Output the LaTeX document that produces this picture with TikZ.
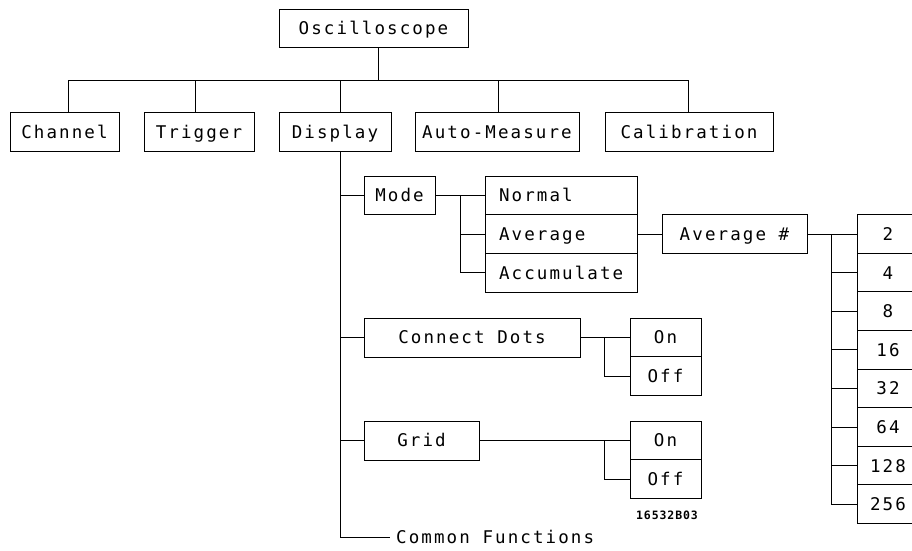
\documentclass[tikz,border=0pt]{standalone}
\usepackage{fontspec}
\newfontfamily\plotfont[LetterSpace=12]{DejaVu Sans Mono}
\newfontfamily\tagfont[LetterSpace=8]{DejaVu Sans Mono}
\begin{document}
\begin{tikzpicture}[x=1pt,y=-1pt,
  menubox/.style={draw, line width=1pt, inner sep=0pt,
    text height=12.8pt, text depth=0pt,
    font=\plotfont\fontsize{17.5}{20}\selectfont},
  modeitem/.style={menubox, text width=124pt, align=left, inner xsep=14pt,
    minimum width=152pt, minimum height=38.7pt},
  numbox/.style={menubox, minimum width=62pt, minimum height=38.6pt},
  onoff/.style={menubox, minimum width=71pt, minimum height=38.5pt},
  link/.style={line width=1pt}]
\useasboundingbox (0,0) rectangle (912,550);
\clip (0,0) rectangle (912,550);

% top level
\node[menubox, minimum width=189pt, minimum height=38pt] (osc) at (373.5,28) {Oscilloscope};
\node[menubox, minimum width=109pt, minimum height=39pt] (ch)   at (64.5,132) {Channel};
\node[menubox, minimum width=110pt, minimum height=39pt] (tr)   at (199,132)  {Trigger};
\node[menubox, minimum width=112pt, minimum height=39pt] (disp) at (335,132)  {Display};
\node[menubox, minimum width=164pt, minimum height=39pt] (am)   at (497,132)  {Auto-Measure};
\node[menubox, minimum width=168pt, minimum height=39pt] (cal)  at (689,132)  {Calibration};

\coordinate (bus) at (0,80);
\draw[link] ([xshift=4.5pt]osc.south) -- ([xshift=4.5pt]osc.south |- bus);
\draw[link] ([xshift=3.5pt]ch.north) |- ([xshift=-1pt]cal.north |- bus) -- ([xshift=-1pt]cal.north);
\draw[link] ([xshift=-4pt]tr.north) -- ([xshift=-4pt]tr.north |- bus);
\draw[link] ([xshift=5pt]disp.north) -- ([xshift=5pt]disp.north |- bus);
\draw[link] ([xshift=1pt]am.north) -- ([xshift=1pt]am.north |- bus);

% Display submenu
\coordinate (tk) at ([xshift=5pt]disp.south);
\node[menubox, minimum width=71pt, minimum height=38pt] (mode) at (399.5,195) {Mode};
\node[modeitem] (norm) at (561,195.35) {Normal};
\node[modeitem] (avg)  at (561,234.05) {Average};
\node[modeitem] (acc)  at (561,272.75) {Accumulate};
\node[menubox, minimum width=145pt, minimum height=39pt] (avgn) at (734.5,234.05) {Average \#};

\foreach \v [count=\i from 0] in {2,4,8,16,32,64,128,256}
  \node[numbox] (n\v) at (888,234.05+38.6*\i) {\v};

\node[menubox, minimum width=216pt, minimum height=39pt] (cd) at (472,337.5) {Connect Dots};
\node[onoff] (cdon)  at (665.5,337.5) {On};
\node[onoff] (cdoff) at (665.5,376)   {Off};

\node[menubox, minimum width=115pt, minimum height=39pt] (grid) at (421.5,440.5) {Grid};
\node[onoff] (gon)  at (665.5,440.5) {On};
\node[onoff] (goff) at (665.5,479)   {Off};

\node[inner sep=0pt, font=\tagfont\bfseries\fontsize{11.5}{13}\selectfont] (tag) at (667,515) {16532B03};

\node[anchor=west, inner xsep=6pt, inner ysep=0pt, text height=12.8pt, text depth=0pt,
  font=\plotfont\fontsize{17.5}{20}\selectfont] (cfun) at (390,537) {Common Functions};

% trunk from Display
\draw[link] (tk) |- (cfun.west);
\draw[link] (mode.west) -- (mode.west -| tk);
\draw[link] (cd.west) -- (cd.west -| tk);
\draw[link] (grid.west) -- (grid.west -| tk);

% Mode branches
\draw[link] (mode.east) -- (mode.east -| norm.west);
\draw[link] ([xshift=25pt]mode.east) |- (acc.west);
\draw[link] ([xshift=25pt]mode.east |- avg.west) -- (avg.west);
\draw[link] (avg.east) -- (avgn.west);

% Average # branches
\draw[link] (avgn.east) -- (n2.west);
\draw[link] ([xshift=-25pt]n2.west) |- (n256.west);
\foreach \v in {4,8,16,32,64,128}
  \draw[link] (n\v.west) -- ++(-25,0);

% On / Off branches
\draw[link] (cd.east) -- (cdon.west);
\draw[link] ([xshift=-25pt]cdon.west) |- (cdoff.west);
\draw[link] (grid.east) -- (gon.west);
\draw[link] ([xshift=-25pt]gon.west) |- (goff.west);
\end{tikzpicture}
\end{document}
